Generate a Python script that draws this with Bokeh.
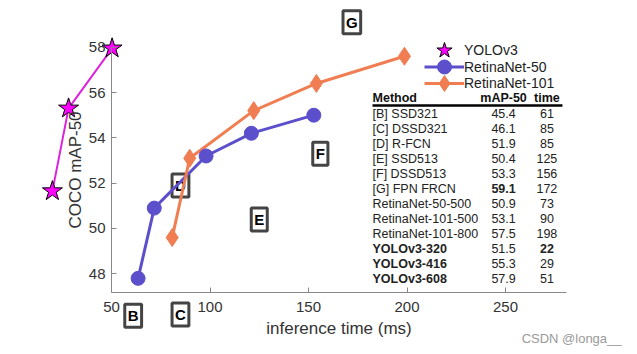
import numpy as np
from bokeh.plotting import figure
from bokeh.models import (LinearAxis, FixedTicker, ColumnDataSource, Legend,
                          LegendItem, Label)
from bokeh.core.properties import value
from bokeh.embed import file_html
from bokeh.resources import INLINE

# ---------------- data ----------------
yolo_time = [20.0, 28.2, 50.3]
yolo_map = [51.65, 55.3, 57.95]

r50_time = [63.5, 71.7, 98.0, 121.0, 152.7]
r50_map = [47.8, 50.9, 53.2, 54.2, 55.0]

r101_time = [80.8, 89.7, 122.2, 154.0, 198.7]
r101_map = [49.6, 53.1, 55.2, 56.4, 57.6]

box_letters = ["B", "C", "D", "E", "F", "G"]
box_time = [61, 85, 85, 125, 156, 172]
box_map = [46.15, 46.2, 51.9, 50.4, 53.3, 59.1]

methods = ["[B] SSD321", "[C] DSSD321", "[D] R-FCN", "[E] SSD513", "[F] DSSD513",
           "[G] FPN FRCN", "RetinaNet-50-500", "RetinaNet-101-500", "RetinaNet-101-800",
           "YOLOv3-320", "YOLOv3-416", "YOLOv3-608"]
method_map = ["45.4", "46.1", "51.9", "50.4", "53.3", "59.1", "50.9", "53.1", "57.5",
              "51.5", "55.3", "57.9"]
method_time = ["61", "85", "85", "125", "156", "172", "73", "90", "198", "22", "29", "51"]
name_bold = [False] * 9 + [True] * 3
map_bold = [False] * 5 + [True] + [False] * 6
time_bold = [False] * 9 + [True, False, False]

x_ticks = [50, 100, 150, 200, 250]
y_ticks = [48, 50, 52, 54, 56, 58]

# ---------------- styling ----------------
FONT = "Liberation Sans"
PURPLE = "#5B4FCB"
ORANGE = "#F07E52"
MAGENTA = "#FF00FF"
MAG_LINE = "#DD22DD"

p = figure(width=637, height=354, x_range=(-6.35, 317.0), y_range=(44.44, 60.06),
           x_axis_type=None, y_axis_type=None, toolbar_location=None,
           output_backend="svg", min_border=0)
p.outline_line_color = None
p.background_fill_color = "white"
p.border_fill_color = "white"

# axes
xaxis = LinearAxis(fixed_location=47.16, bounds=(50, 281),
                   ticker=FixedTicker(ticks=x_ticks), axis_label="inference time (ms)")
yaxis = LinearAxis(fixed_location=50, bounds=(47.16, 58),
                   ticker=FixedTicker(ticks=y_ticks), axis_label="COCO mAP-50")
for ax in (xaxis, yaxis):
    ax.major_tick_in = 5
    ax.major_tick_out = 0
    ax.minor_tick_in = 0
    ax.minor_tick_out = 0
    ax.axis_line_color = "#888888"
    ax.axis_line_width = 1
    ax.major_tick_line_color = "#888888"
    ax.major_label_text_font = FONT
    ax.major_label_text_font_size = "15px"
    ax.major_label_text_color = "#333333"
    ax.axis_label_text_font = FONT
    ax.axis_label_text_font_size = "17px"
    ax.axis_label_text_font_style = "normal"
    ax.axis_label_text_color = "#333333"
xaxis.major_label_standoff = 9
xaxis.axis_label_standoff = 4
yaxis.major_label_standoff = 6
yaxis.axis_label_standoff = 1
p.add_layout(xaxis, "below")
p.add_layout(yaxis, "left")

# letter boxes
box_src = ColumnDataSource(dict(x=box_time, y=box_map, t=box_letters))
p.text(x="x", y="y", text="t", source=box_src, text_align="center",
       text_baseline="middle", text_font=value(FONT), text_font_style="bold",
       text_font_size="15px", text_color="black", background_fill_color="white",
       border_line_color="#444444", border_line_width=3, padding=3)

# series
yolo_line = p.line(yolo_time, yolo_map, line_color=MAG_LINE, line_width=2)
r50_line = p.line(r50_time, r50_map, line_color=PURPLE, line_width=3)
r101_line = p.line(r101_time, r101_map, line_color=ORANGE, line_width=3)
r50_pts = p.scatter(r50_time, r50_map, marker="circle", size=14,
                    fill_color=PURPLE, line_color=PURPLE)
r101_pts = p.scatter(r101_time, r101_map, marker="diamond", size=18,
                     fill_color=ORANGE, line_color=ORANGE)
yolo_pts = p.scatter(yolo_time, yolo_map, marker="star", size=21,
                     fill_color=MAGENTA, line_color="black", line_width=1)

# table (layout in data coordinates)
col_method_x = 182.5
col_map_x = 249.0
col_time_x = 271.0
header_y = 55.74
rule_y = 55.43
first_row_y = 55.06
row_step = 0.662
row_y = [first_row_y - i * row_step for i in range(len(methods))]

hdr = ColumnDataSource(dict(x=[col_method_x, col_map_x, col_time_x], y=[header_y] * 3,
                            t=["Method", "mAP-50", "time"],
                            a=["left", "center", "center"]))
p.text(x="x", y="y", text="t", text_align="a", source=hdr, text_baseline="middle",
       text_font=value(FONT), text_font_style="bold", text_font_size="12.5px",
       text_color="#111111")
p.segment(x0=[col_method_x], y0=[rule_y], x1=[278.9], y1=[rule_y],
          line_color="black", line_width=2.5)

tab = ColumnDataSource(dict(
    y=row_y, name=methods, m=method_map, tm=method_time,
    ns=["bold" if b else "normal" for b in name_bold],
    ms=["bold" if b else "normal" for b in map_bold],
    ts=["bold" if b else "normal" for b in time_bold]))
p.text(x=col_method_x, y="y", text="name", source=tab, text_align="left",
       text_baseline="middle", text_font=value(FONT), text_font_style="ns",
       text_font_size="12.5px", text_color="#222222")
p.text(x=col_map_x, y="y", text="m", source=tab, text_align="center",
       text_baseline="middle", text_font=value(FONT), text_font_style="ms",
       text_font_size="12.5px", text_color="#222222")
p.text(x=col_time_x, y="y", text="tm", source=tab, text_align="center",
       text_baseline="middle", text_font=value(FONT), text_font_style="ts",
       text_font_size="12.5px", text_color="#222222")

# legend: one single-row legend per entry, stacked
legend_entries = [("YOLOv3", [yolo_pts], 42, 283),
                  ("RetinaNet-50", [r50_line, r50_pts], 35, 270),
                  ("RetinaNet-101", [r101_line, r101_pts], 42, 250)]
legend_left = 424
for lab, rends, gh, vy in legend_entries:
    lg = Legend(items=[LegendItem(label=lab, renderers=rends)],
                location=(legend_left, vy), glyph_width=40, glyph_height=gh,
                padding=0, margin=0, label_standoff=0, label_height=17,
                label_text_font=FONT, label_text_font_size="14px",
                label_text_color="#222222", label_text_baseline="middle",
                border_line_color=None, background_fill_alpha=0)
    p.add_layout(lg)

# watermark
p.add_layout(Label(x=308.9, y=45.14, text="CSDN @longa__", text_align="right",
                   text_baseline="middle", text_font=FONT, text_font_size="13px",
                   text_color="#9a9a9a"))

open("out.html", "w").write(file_html(p, INLINE))
